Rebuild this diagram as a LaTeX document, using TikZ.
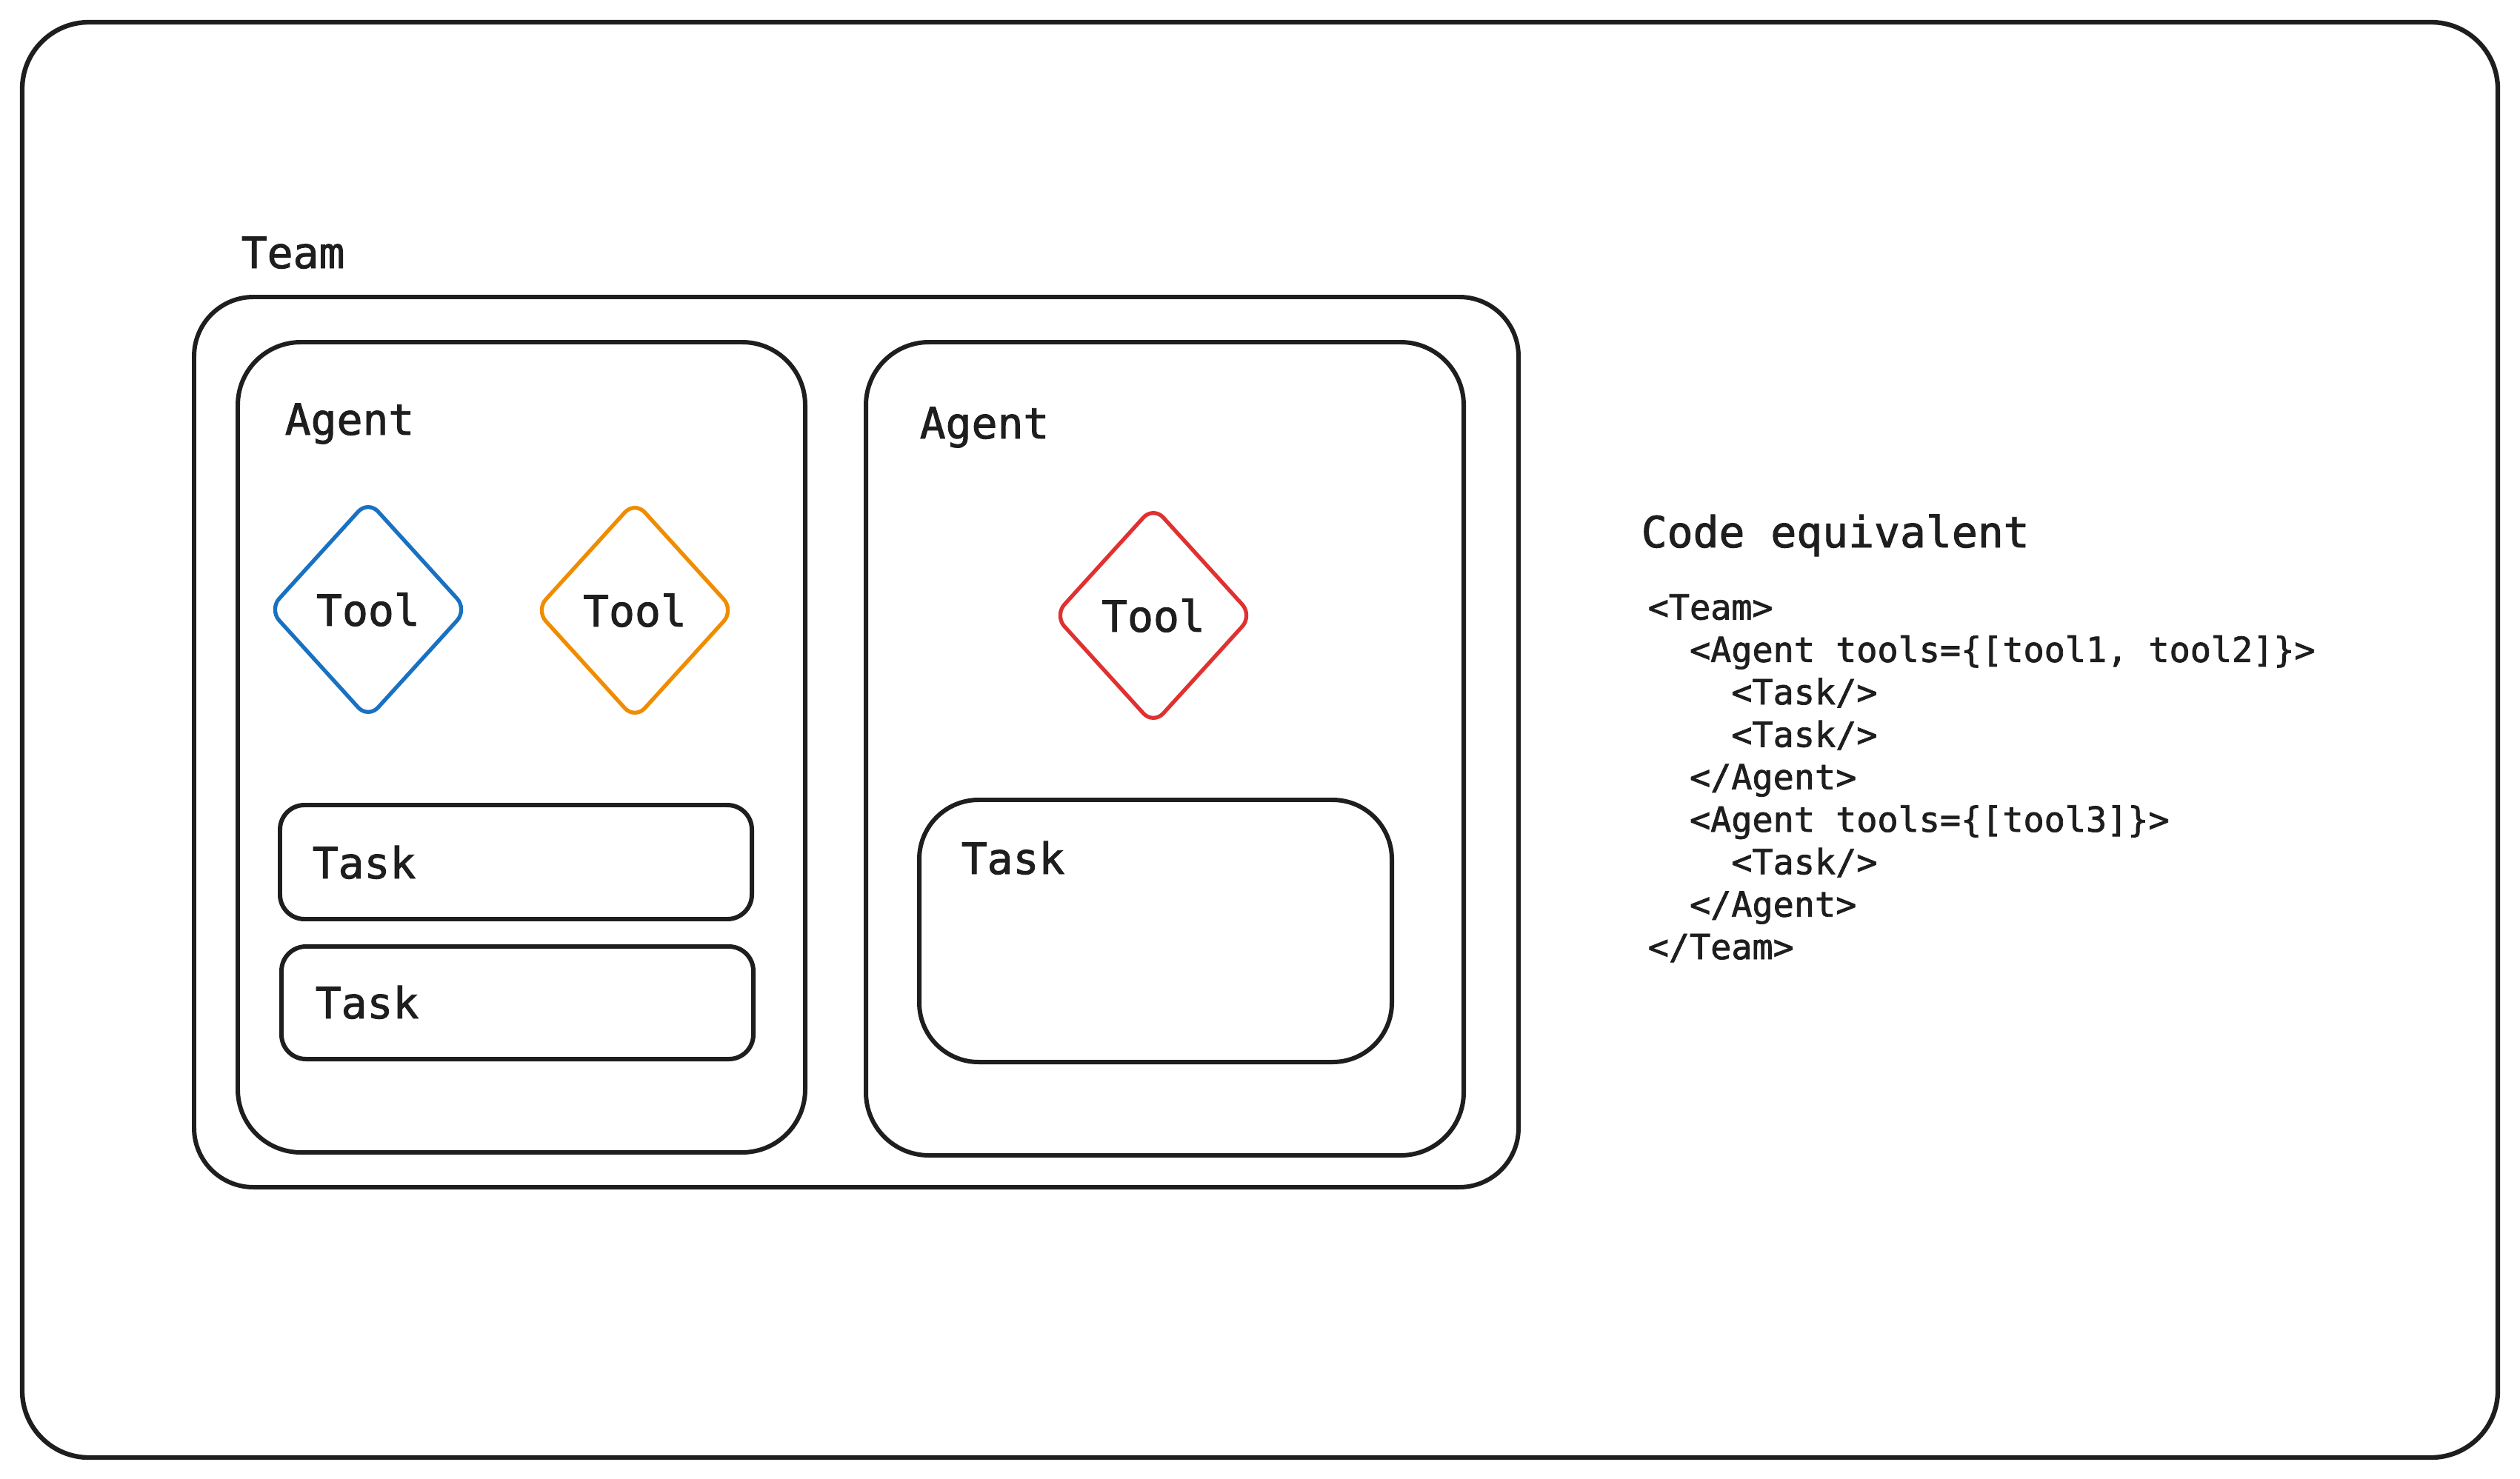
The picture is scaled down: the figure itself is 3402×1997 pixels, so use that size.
\documentclass[tikz,border=0pt]{standalone}
\usepackage{fontspec}
\newfontfamily\codefont[FakeBold=1.6]{DejaVu Sans Mono}
\usetikzlibrary{shapes.geometric,fit}
\definecolor{ink}{HTML}{1E1E1E}
\definecolor{toolblue}{HTML}{1971C2}
\definecolor{toolorange}{HTML}{F08C00}
\definecolor{toolred}{HTML}{E03131}
\begin{document}
\begin{tikzpicture}[x=0.01cm,y=-0.01cm,
  box/.style={draw=ink, line width=1.7pt, inner sep=0pt, rectangle},
  lbl/.style={font=\codefont\fontsize{16.5}{20}\selectfont, text=ink, anchor=base west, inner sep=0pt},
  toolshape/.style={diamond, draw=#1, line width=1.5pt, minimum width=2.69cm, minimum height=2.96cm,
    inner sep=0pt, rounded corners=0.2cm, font=\codefont\fontsize{16.5}{20}\selectfont, text=ink},
  codeblock/.style={font=\codefont\fontsize{13.3}{16.3}\selectfont, text=ink, align=left, anchor=base west, inner sep=0pt}]
\useasboundingbox (0,0) rectangle (3402,1997);
% outer frame
\node[box, line width=1.8pt, rounded corners=0.9cm, fit={(30,30) (3372,1968)}] (frame) {};
% team
\node[lbl] (teamlbl) at (325,362) {Team};
\node[box, rounded corners=0.8cm, fit={(262,401) (2050,1603)}] (team) {};
% agent 1
\node[box, rounded corners=0.85cm, fit={(321,462) (1087,1556)}] (agent1) {};
\node[lbl] (agent1lbl) at (384,587) {Agent};
\node[toolshape=toolblue] (tool1) at (497,823) {Tool};
\node[toolshape=toolorange] (tool2) at (857,824) {Tool};
\node[box, rounded corners=0.33cm, fit={(378,1087) (1015,1241)}] (task1) {};
\node[lbl] (task1lbl) at (421,1186) {Task};
\node[box, rounded corners=0.33cm, fit={(380,1278) (1017,1430)}] (task2) {};
\node[lbl] (task2lbl) at (425,1375) {Task};
% agent 2
\node[box, rounded corners=0.85cm, fit={(1169,462) (1976,1560)}] (agent2) {};
\node[lbl] (agent2lbl) at (1241,592) {Agent};
\node[toolshape=toolred] (tool3) at (1557,831) {Tool};
\node[box, rounded corners=0.8cm, fit={(1241,1080) (1879,1434)}] (task3) {};
\node[lbl] (task3lbl) at (1297,1180) {Task};
% code
\node[lbl] (codetitle) at (2215,739) {Code equivalent};
\node[codeblock] (code) at (2224,1295) {%
<Team>\\
\phantom{xx}<Agent tools=\{[tool1, tool2]\}>\\
\phantom{xxxx}<Task/>\\
\phantom{xxxx}<Task/>\\
\phantom{xx}</Agent>\\
\phantom{xx}<Agent tools=\{[tool3]\}>\\
\phantom{xxxx}<Task/>\\
\phantom{xx}</Agent>\\
</Team>};
\end{tikzpicture}
\end{document}
